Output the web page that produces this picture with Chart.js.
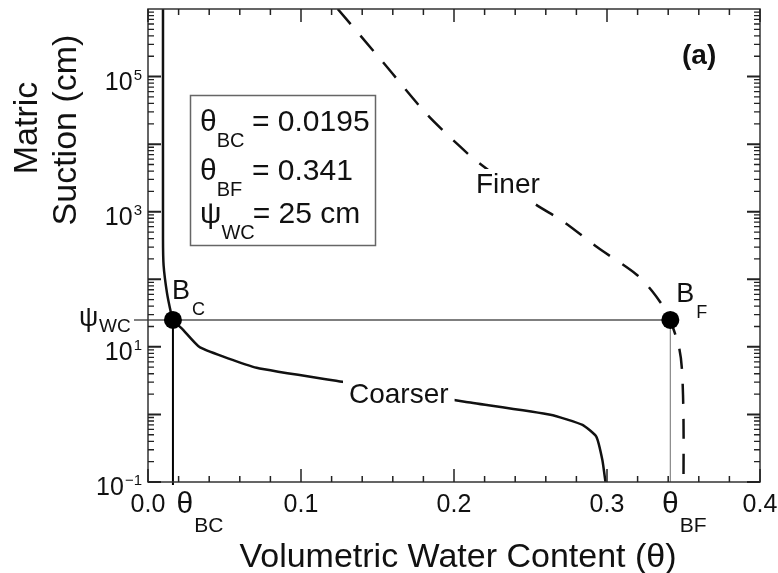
<!DOCTYPE html>
<html>
<head>
<meta charset="utf-8">
<script src="https://cdn.jsdelivr.net/npm/chart.js@4.4.1/dist/chart.umd.min.js"></script>
<style>
html,body{margin:0;padding:0;background:#fff;}
canvas{display:block;}
</style>
</head>
<body>
<canvas id="c" width="778" height="573"></canvas>
<script>
// ---- data ----
const coarserTheta = [0.0098, 0.0098, 0.0102, 0.0124, 0.0150, 0.0163, 0.0228, 0.034, 0.071, 0.127, 0.207, 0.263, 0.284, 0.293, 0.297, 0.299];
const coarserPsi   = [1e6,    400,    160,    63,     32,     25,     18,     9.8,   4.9,   3.05,  1.54,  0.99,  0.70,  0.47,  0.21,  0.1];
const finerTheta = [0.124, 0.1534, 0.1821, 0.2037, 0.2148, 0.2513, 0.2722, 0.2937, 0.3192, 0.3297, 0.3394, 0.3414, 0.347, 0.349, 0.350, 0.350];
const finerPsi   = [1e6,   1.65e5, 2.79e4, 9.33e3, 5.6e3,  1.38e3, 696,    297,    118,    66,     32,     25,     10,    4.6,   0.83,  0.1];
const breakTheta = [0.0163, 0.3414];   // B_C, B_F (as drawn)
const breakPsi = [25, 25];             // psi_WC = 25 cm
const breakNames = ['B', 'B'];
const breakSubs = ['C', 'F'];
const xTickValues = [0, 0.1, 0.2, 0.3, 0.4];
const xTickLabels = ['0.0', '0.1', '0.2', '0.3', '0.4'];
const yTickExponents = [-1, 1, 3, 5];
const boxLines = [['θ', 'BC', '= 0.0195'], ['θ', 'BF', '= 0.341'], ['ψ', 'WC', '= 25 cm']];

const FONT = '"Liberation Sans", Arial, Helvetica, sans-serif';
const f = (s, w) => (w ? w + ' ' : '') + s + 'px ' + FONT;

function toXY(xs, ys){ return xs.map((x,i)=>({x:x, y:ys[i]})); }

function subText(ctx, main, sub, x, y, mainPx, subPx, dx, dy, align){
  ctx.font = f(mainPx);
  const mw = ctx.measureText(main).width;
  ctx.font = f(subPx);
  const sw = ctx.measureText(sub).width;
  let x0 = x;
  if (align === 'center') x0 = x - mw/2;
  ctx.textAlign = 'left';
  ctx.textBaseline = 'alphabetic';
  ctx.font = f(mainPx);
  ctx.fillText(main, x0, y);
  ctx.font = f(subPx);
  ctx.fillText(sub, x0 + mw + dx, y + dy);
  return x0 + mw + dx + sw;
}

const drawPlugin = {
  id: 'paperLook',
  beforeDatasetsDraw(chart){
    const ctx = chart.ctx, xs = chart.scales.x, ys = chart.scales.y, a = chart.chartArea;
    const yw = ys.getPixelForValue(breakPsi[0]);
    const xc = xs.getPixelForValue(breakTheta[0]);
    const xf = xs.getPixelForValue(breakTheta[1]);
    ctx.save();
    ctx.strokeStyle = '#555';
    ctx.lineWidth = 1.5;
    ctx.beginPath(); ctx.moveTo(a.left - 14, yw); ctx.lineTo(xf, yw); ctx.stroke();
    ctx.strokeStyle = '#000';
    ctx.lineWidth = 2;
    ctx.beginPath(); ctx.moveTo(xc, yw); ctx.lineTo(xc, a.bottom + 3); ctx.stroke();
    ctx.strokeStyle = '#888';
    ctx.lineWidth = 1.2;
    ctx.beginPath(); ctx.moveTo(xf, yw); ctx.lineTo(xf, a.bottom); ctx.stroke();
    ctx.restore();
  },
  afterDatasetsDraw(chart){
    const ctx = chart.ctx, xs = chart.scales.x, ys = chart.scales.y, a = chart.chartArea;
    ctx.save();
    ctx.fillStyle = '#111';
    ctx.font = f(28);
    ctx.textBaseline = 'alphabetic';
    ctx.textAlign = 'left';
    [['Finer', 476, 193], ['Coarser', 349, 403]].forEach(([t, x, y]) => {
      const w = ctx.measureText(t).width;
      ctx.fillStyle = '#fff';
      ctx.fillRect(x - 6, y - 24, w + 12, 32);
      ctx.fillStyle = '#111';
      ctx.fillText(t, x, y);
    });
    const xc = xs.getPixelForValue(breakTheta[0]);
    const xf = xs.getPixelForValue(breakTheta[1]);
    const yw = ys.getPixelForValue(breakPsi[0]);
    subText(ctx, breakNames[0], breakSubs[0], xc - 1, yw - 21, 27, 18, 2, 16);
    subText(ctx, breakNames[1], breakSubs[1], xf + 6, yw - 18, 27, 18, 2, 16);
    ctx.font = f(28, 'bold');
    ctx.textAlign = 'left';
    ctx.fillText('(a)', 682, 64);
    ctx.strokeStyle = '#666';
    ctx.lineWidth = 1.5;
    ctx.strokeRect(190.5, 95.5, 185, 150);
    const bases = [131, 180, 223];
    boxLines.forEach((ln, i) => {
      const end = subText(ctx, ln[0], ln[1], 200, bases[i], 30, 20, 0, 16);
      ctx.font = f(30);
      ctx.textAlign = 'left';
      ctx.fillText(ln[2], i === 2 ? end - 2 : 252, bases[i]);
    });
    ctx.restore();
  },
  afterDraw(chart){
    const ctx = chart.ctx, xs = chart.scales.x, ys = chart.scales.y, a = chart.chartArea;
    ctx.save();
    ctx.strokeStyle = '#333';
    ctx.lineWidth = 1.5;
    ctx.strokeRect(a.left, a.top, a.right - a.left, a.bottom - a.top);
    ctx.strokeStyle = '#222';
    ctx.lineWidth = 1.5;
    for (let k = 0; k <= 20; k++){
      const v = k * 0.02;
      const px = xs.getPixelForValue(v);
      const len = (k % 5 === 0) ? 13 : 6;
      ctx.beginPath();
      ctx.moveTo(px, a.bottom); ctx.lineTo(px, a.bottom - len);
      ctx.moveTo(px, a.top); ctx.lineTo(px, a.top + len);
      ctx.stroke();
    }
    for (let e = -1; e <= 5; e++){
      for (let m = 1; m <= 9; m++){
        const v = m * Math.pow(10, e);
        if (v > 1e6) continue;
        const py = ys.getPixelForValue(v);
        const len = (m === 1) ? 13 : 6;
        ctx.lineWidth = (m === 1) ? 2 : 1.3;
        ctx.beginPath();
        ctx.moveTo(a.left, py); ctx.lineTo(a.left + len, py);
        ctx.moveTo(a.right, py); ctx.lineTo(a.right - len, py);
        ctx.stroke();
      }
    }
    ctx.fillStyle = '#111';
    ctx.font = f(25);
    ctx.textAlign = 'center';
    ctx.textBaseline = 'alphabetic';
    xTickValues.forEach((v, i) => {
      ctx.fillText(xTickLabels[i], xs.getPixelForValue(v), a.bottom + 30);
    });
    const xc = xs.getPixelForValue(breakTheta[0]);
    const xf = xs.getPixelForValue(breakTheta[1]);
    subText(ctx, 'θ', 'BC', xc + 12, a.bottom + 31, 30, 21, 1, 19, 'center');
    subText(ctx, 'θ', 'BF', xf, a.bottom + 31, 30, 21, 1, 19, 'center');
    yTickExponents.forEach(e => {
      const py = ys.getPixelForValue(Math.pow(10, e));
      const exp = String(e).replace('-', '\u2212');
      ctx.font = f(15);
      const ew = ctx.measureText(exp).width;
      ctx.font = f(25);
      const bw = ctx.measureText('10').width;
      const right = 142;
      ctx.textAlign = 'left';
      ctx.fillText('10', right - ew - bw - 1, py + 13);
      ctx.font = f(15);
      ctx.fillText(exp, right - ew, py + 3);
    });
    const yw = ys.getPixelForValue(breakPsi[0]);
    ctx.font = f(27);
    ctx.textAlign = 'left';
    ctx.fillText('ψ', 79, yw + 6);
    ctx.font = f(19);
    ctx.fillText('WC', 99, yw + 12);
    ctx.font = f(34);
    ctx.textAlign = 'center';
    ctx.fillText('Volumetric Water Content (θ)', (a.left + a.right) / 2 + 4, 567);
    ctx.save();
    ctx.translate(37, 128);
    ctx.rotate(-Math.PI / 2);
    ctx.fillText('Matric', 0, 0);
    ctx.restore();
    ctx.save();
    ctx.translate(76, 130);
    ctx.rotate(-Math.PI / 2);
    ctx.fillText('Suction (cm)', 0, 0);
    ctx.restore();
    ctx.restore();
  }
};

new Chart(document.getElementById('c'), {
  type: 'scatter',
  data: {
    datasets: [
      {
        label: 'Break points',
        data: toXY(breakTheta, breakPsi),
        showLine: false,
        pointRadius: 9,
        pointBackgroundColor: '#000',
        pointBorderColor: '#000',
        pointBorderWidth: 0,
        order: 0
      },
      {
        label: 'Coarser',
        data: toXY(coarserTheta, coarserPsi),
        showLine: true,
        borderColor: '#111',
        borderWidth: 2.5,
        pointRadius: 0,
        tension: 0.15,
        order: 1
      },
      {
        label: 'Finer',
        data: toXY(finerTheta, finerPsi),
        showLine: true,
        borderColor: '#111',
        borderWidth: 2.5,
        borderDash: [20, 15],
        pointRadius: 0,
        tension: 0.3,
        order: 1
      }
    ]
  },
  options: {
    responsive: false,
    animation: false,
    events: [],
    layout: { padding: { left: 148, right: 18, top: 9, bottom: 91 } },
    plugins: { legend: { display: false }, tooltip: { enabled: false }, title: { display: false } },
    scales: {
      x: { type: 'linear', min: 0, max: 0.4, display: false },
      y: { type: 'logarithmic', min: 0.1, max: 1e6, display: false }
    }
  },
  plugins: [drawPlugin]
});
</script>
</body>
</html>
